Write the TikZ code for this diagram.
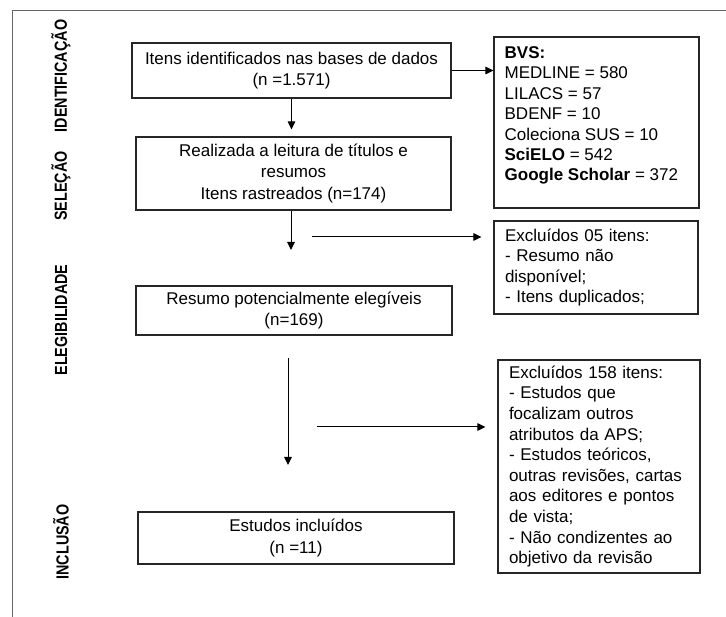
\documentclass[tikz,border=0pt]{standalone}
\usepackage{fontspec}
\setmainfont{Liberation Sans}
\newfontfamily\labelfont[FakeStretch=0.82]{Liberation Sans}
\usetikzlibrary{arrows.meta}
\begin{document}
\begin{tikzpicture}[x=1pt,y=-1pt,
  box/.style={draw=black!85, line width=1.1pt, inner sep=0pt, align=center, font=\fontsize{17}{21.5}\selectfont},
  sidebox/.style={draw=black!85, line width=1.1pt, inner xsep=11pt, inner ysep=0pt, align=left, font=\fontsize{17}{20.6}\selectfont},
  phase/.style={rotate=90, inner sep=0pt, font=\labelfont\bfseries\fontsize{17.5}{17.5}\selectfont},
  arr/.style={line width=1pt, draw=black, -{Triangle[length=8pt,width=7.5pt]}},
  framel/.style={line width=1pt, draw=black!60}]
\useasboundingbox (0,0) rectangle (726,617);
\fill[white] (0,0) rectangle (726,617);
% frame
\coordinate (ftr) at (726,10.7);
\coordinate (ftl) at (12,10.7);
\coordinate (fbl) at (12,617);
\draw[framel] (ftr) -- (ftl) -- (fbl);
% phase labels
\node[phase] (pid) at (61,76) {IDENTIFICAÇÃO};
\node[phase] (psel) at (61,186) {SELEÇÃO};
\node[phase] (pele) at (61,320) {ELEGIBILIDADE};
\node[phase] (pinc) at (61,542) {INCLUSÃO};
% main boxes
\node[box, minimum width=319pt, minimum height=55pt] (b1) at (291.5,70.5) {Itens identificados nas bases de dados\\(n =1.571)};
\node[box, minimum width=315pt, minimum height=73pt] (b2) at (293.5,173.5) {Realizada a leitura de títulos e\\resumos\\Itens rastreados (n=174)};
\node[box, minimum width=316pt, minimum height=49pt] (b3) at (294,310.5) {Resumo potencialmente elegíveis\\(n=169)};
\node[box, minimum width=316pt, minimum height=52pt] (b4) at (296,538) {Estudos incluídos\\(n =11)};
% side boxes
\node[draw=black!85, line width=1.1pt, minimum width=205pt, minimum height=171pt, inner sep=0pt] (bvs) at (596.5,122.5) {};
\node[anchor=north west, inner sep=0pt, align=left, font=\fontsize{17}{20.4}\selectfont] (bvstext) at ([xshift=11pt,yshift=-10pt]bvs.north west)
  {\textbf{BVS:}\\MEDLINE = 580\\LILACS = 57\\BDENF = 10\\Coleciona SUS = 10\\\textbf{SciELO} = 542\\\textbf{Google Scholar} = 372};
\node[sidebox, text width=182pt, minimum height=93pt] (ex1) at (596,267.5) {Excluídos 05 itens:\\- Resumo não\\disponível;\\- Itens duplicados;};
\node[sidebox, text width=180pt, minimum height=213pt] (ex2) at (599,466.5) {Excluídos 158 itens:\\- Estudos que\\focalizam outros\\atributos da APS;\\- Estudos teóricos,\\outras revisões, cartas\\aos editores e pontos\\de vista;\\- Não condizentes ao\\objetivo da revisão};
% connectors
\draw[arr] (b1.east) -- (b1.east -| bvs.west);
\draw[arr, shorten >=7pt] (b1.south) -- (b1.south |- b2.north);
\coordinate (a2e) at (291,250);
\draw[arr] (a2e |- b2.south) -- (a2e);
\coordinate (h1s) at (312,237);
\draw[arr, shorten >=12pt] (h1s) -- (h1s -| ex1.west);
\coordinate (a3s) at (288,358);
\coordinate (a3e) at (288,465);
\draw[arr] (a3s) -- (a3e);
\coordinate (h2s) at (317,427);
\draw[arr, shorten >=12pt] (h2s) -- (h2s -| ex2.west);
\end{tikzpicture}
\end{document}
